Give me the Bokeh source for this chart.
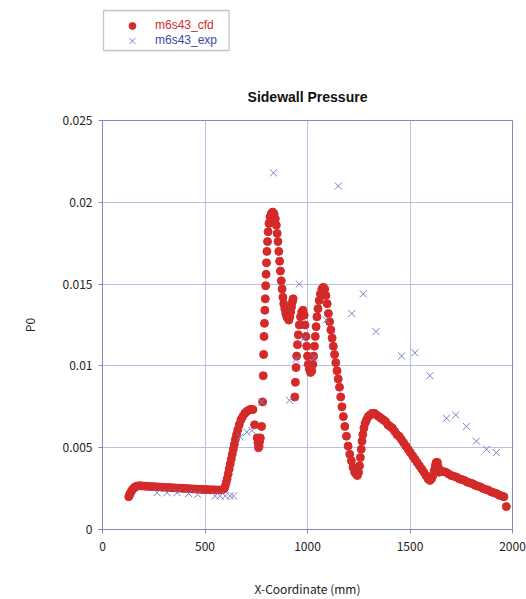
from bokeh.plotting import figure
from bokeh.layouts import column
from bokeh.models import (Range1d, Legend, LegendItem, BoxAnnotation, FixedTicker, Label,
                          CustomJSTickFormatter)
from bokeh.embed import file_html
from bokeh.resources import INLINE

# ---------------- data ----------------
title_text = "Sidewall Pressure"
x_label = "X-Coordinate (mm)"
y_label = "P0"
cfd_name = "m6s43_cfd"
exp_name = "m6s43_exp"

x_ticks = [0, 500, 1000, 1500, 2000]
y_ticks = [0, 0.005, 0.01, 0.015, 0.02, 0.025]

cfd_x = [128, 131, 135, 140, 146, 153, 160, 168, 176, 185, 195, 207, 220, 233, 246, 260, 274,
         288, 302, 316, 330, 344, 358, 372, 386, 400, 414, 428, 442, 456, 470, 484, 498, 512,
         526, 540, 554, 568, 582, 592,
         598, 603, 608, 613, 618, 623, 628, 633, 638, 643, 648, 654, 660, 667, 675, 684, 694,
         704, 714, 724, 734,
         742, 776, 755, 758, 761, 764, 767, 770,
         781, 784, 786, 788, 790, 792, 794, 796, 798, 800, 802, 805, 808, 812, 817, 823, 830,
         837, 843, 848, 852, 856, 860, 864, 868, 872, 876, 880, 884, 889, 894, 899, 904, 909,
         914, 918, 922, 926, 930,
         938, 941, 944, 947, 951, 955, 960, 966, 972, 978, 984, 988, 992, 996, 1000, 1004,
         1009, 1015, 1021, 1026, 1030, 1034, 1038, 1042, 1046, 1051, 1057, 1063, 1070, 1077,
         1084, 1090, 1096, 1102, 1108, 1114, 1120, 1126, 1132, 1138, 1144, 1150, 1156, 1162,
         1168, 1175, 1182, 1190, 1198, 1206, 1214, 1222, 1230, 1237, 1243,
         1249, 1254, 1258, 1262, 1266, 1270, 1275, 1281, 1288, 1296, 1305, 1315, 1326, 1337,
         1348, 1359, 1370, 1381, 1392, 1403, 1414, 1425, 1436, 1447, 1458, 1469, 1480, 1491,
         1502, 1513, 1524, 1535, 1546, 1557, 1568, 1578, 1588, 1597, 1605, 1612, 1618, 1623,
         1628, 1634, 1638, 1642, 1650, 1662, 1675, 1688, 1701, 1714, 1727, 1740, 1753, 1766,
         1779, 1792, 1805, 1818, 1831, 1844, 1857, 1870, 1883, 1896, 1909, 1922, 1935, 1948,
         1958, 1970]
cfd_y = [0.00200, 0.00210, 0.00220, 0.00232, 0.00244, 0.00254, 0.00261, 0.00265, 0.00267,
         0.00267, 0.00266, 0.00265, 0.00264, 0.00263, 0.00262, 0.00261, 0.00260, 0.00259,
         0.00258, 0.00257, 0.00256, 0.00255, 0.00254, 0.00253, 0.00252, 0.00251, 0.00250,
         0.00249, 0.00248, 0.00247, 0.00246, 0.00245, 0.00245, 0.00244, 0.00243, 0.00243,
         0.00242, 0.00242, 0.00242, 0.00248,
         0.00262, 0.00285, 0.0031, 0.0034, 0.0037, 0.0040, 0.0043, 0.0046, 0.0049, 0.0052,
         0.0055, 0.0058, 0.0061, 0.0064, 0.0067, 0.0069, 0.00710, 0.00722, 0.00730, 0.00735,
         0.00733,
         0.0064, 0.0063, 0.0056, 0.0053, 0.0050, 0.0051, 0.0054, 0.0056,
         0.0078, 0.0094, 0.0107, 0.0118, 0.0126, 0.0134, 0.0141, 0.0149, 0.0156, 0.0163,
         0.0170, 0.0176, 0.0182, 0.0187, 0.0191, 0.0193, 0.0194, 0.0193, 0.0190, 0.0186,
         0.0181, 0.0176, 0.0170, 0.0164, 0.0158, 0.0152, 0.0147, 0.0142, 0.0138, 0.0135,
         0.0132, 0.0130, 0.0129, 0.0128, 0.0130, 0.0133, 0.0136, 0.0139, 0.0141,
         0.0081, 0.0090, 0.0099, 0.0106, 0.0113, 0.0119, 0.0125, 0.0130, 0.0133, 0.0134,
         0.0131, 0.0125, 0.0118, 0.0112, 0.0106, 0.0101, 0.0098, 0.0096, 0.0097, 0.0101,
         0.0106, 0.0112, 0.0118, 0.0124, 0.0130, 0.0135, 0.0140, 0.0144, 0.0147, 0.0148,
         0.0147, 0.0143, 0.0138, 0.0132, 0.0127, 0.0122, 0.0117, 0.0112, 0.0107, 0.0102,
         0.0097, 0.0092, 0.0087, 0.0081, 0.0075, 0.0069, 0.0063, 0.0057, 0.0051, 0.0046,
         0.0042, 0.0038, 0.0035, 0.0034, 0.0033,
         0.0035, 0.0039, 0.0044, 0.0049, 0.0054, 0.0058, 0.0062, 0.0065, 0.0067, 0.0069,
         0.0070, 0.0071, 0.0071, 0.0070, 0.0069, 0.0068, 0.0067, 0.0066, 0.0064, 0.0063,
         0.0062, 0.0060, 0.0058, 0.0057, 0.0055, 0.0053, 0.0051, 0.0049, 0.0047, 0.0045,
         0.0043, 0.0041, 0.0039, 0.0037, 0.0035, 0.0033, 0.0031, 0.0030, 0.0031, 0.0033,
         0.0036, 0.0039, 0.0041, 0.0041, 0.0038, 0.0035, 0.0036, 0.00355, 0.0035, 0.0034,
         0.0033, 0.00325, 0.0032, 0.0031, 0.00305, 0.0030, 0.0029, 0.00285, 0.0028, 0.0027,
         0.00265, 0.0026, 0.0025, 0.00245, 0.0024, 0.0023, 0.00225, 0.0022, 0.0021, 0.00205,
         0.0020, 0.0014]

exp_x = [266, 315, 364, 420, 464, 550, 574, 599, 623, 639, 672, 704, 729, 777, 834, 912,
         944, 960, 980, 1033, 1091, 1150, 1216, 1272, 1334, 1459, 1524, 1597, 1678, 1723,
         1775, 1824, 1873, 1921]
exp_y = [0.00225, 0.00225, 0.00225, 0.0022, 0.00215, 0.00205, 0.00205, 0.00205, 0.00205,
         0.00205, 0.00565, 0.00595, 0.00605, 0.0078, 0.0218, 0.0079, 0.0104, 0.0150, 0.01165,
         0.0105, 0.0128, 0.0210, 0.0132, 0.0144, 0.0121, 0.0106, 0.0108, 0.0094, 0.0068,
         0.0070, 0.0063, 0.0054, 0.0049, 0.0047]

# ---------------- styles ----------------
RED = "#d42a2a"
BLUE_MK = "#7482c4"
BLUE_TXT = "#3a48a8"
GRID = "#b8bfe2"
FRAME = "#7f89c8"
FONT = "Noto Sans CJK JP"
W = 526
TOP_H = 110
MAIN_H = 489
BL, BR = 102, 14          # left / right borders shared by both figures

# ---------------- header strip: legend + title (frame aligned with the chart) ----------------
pl = figure(width=W, height=TOP_H, x_range=Range1d(BL, W - BR), y_range=Range1d(0, TOP_H),
            output_backend="svg", toolbar_location=None, x_axis_type=None, y_axis_type=None,
            min_border_left=BL, min_border_right=BR, min_border_top=0, min_border_bottom=0,
            title=None)
pl.outline_line_color = None
pl.grid.visible = False
nan = float("nan")
lr_cfd = pl.scatter([nan], [nan], marker="circle", size=7, fill_color=RED, line_color=RED)
lr_exp = pl.scatter([nan], [nan], marker="x", size=9, line_color=BLUE_MK, line_width=1)


def make_legend(label, rend, color, loc, gw, gh, standoff):
    lg = Legend(items=[LegendItem(label=label, renderers=[rend])], location=loc,
                orientation="vertical", margin=0, padding=0, spacing=0,
                glyph_width=gw, glyph_height=gh, label_height=15, label_standoff=standoff,
                label_text_font="Liberation Sans", label_text_font_size="12px",
                label_text_color=color, border_line_color=None, background_fill_alpha=0)
    pl.add_layout(lg, "center")
    return lg


make_legend(cfd_name, lr_cfd, RED, (21, 76.5), 18, 17, 14)
make_legend(exp_name, lr_exp, BLUE_TXT, (20, 59.5), 20, 21, 13)
pl.add_layout(BoxAnnotation(left=103, right=228.5, top=100, bottom=60,
                            fill_alpha=0, line_color="#3c3c3c", line_width=1.3))
pl.add_layout(Label(x=(BL + W - BR) / 2, y=14, text=title_text, text_align="center",
                    text_baseline="middle", text_font="Liberation Sans",
                    text_font_size="14px", text_font_style="bold", text_color="#111111"))

# ---------------- main chart ----------------
p = figure(width=W, height=MAIN_H, x_range=Range1d(0, 2000), y_range=Range1d(0, 0.025),
           output_backend="svg", toolbar_location=None, title=None,
           min_border_left=BL, min_border_right=BR, min_border_top=10, min_border_bottom=70)

p.outline_line_color = FRAME
p.outline_line_width = 1
p.xgrid.grid_line_color = GRID
p.ygrid.grid_line_color = GRID
p.xgrid.ticker = FixedTicker(ticks=x_ticks)
p.ygrid.ticker = FixedTicker(ticks=y_ticks)

p.xaxis.ticker = FixedTicker(ticks=x_ticks)
p.yaxis.ticker = FixedTicker(ticks=y_ticks)
p.yaxis.formatter = CustomJSTickFormatter(code="return String(parseFloat(tick.toFixed(4)));")
for ax in (p.xaxis[0], p.yaxis[0]):
    ax.axis_line_color = FRAME
    ax.major_tick_line_color = FRAME
    ax.major_tick_in = 0
    ax.major_tick_out = 4
    ax.minor_tick_line_color = None
    ax.major_label_text_font = FONT
    ax.major_label_text_font_size = "12px"
    ax.major_label_text_color = "#222222"
    ax.axis_label_text_font = FONT
    ax.axis_label_text_font_size = "12px"
    ax.axis_label_text_font_style = "normal"
    ax.axis_label_text_color = "#222222"
p.xaxis.axis_label = x_label
p.yaxis.axis_label = y_label
p.xaxis.major_label_standoff = 8
p.yaxis.major_label_standoff = 6
p.xaxis.axis_label_standoff = 26
p.yaxis.axis_label_standoff = 22

p.scatter(cfd_x, cfd_y, marker="circle", size=8, fill_color=RED, line_color=RED)
p.scatter(exp_x, exp_y, marker="x", size=10, line_color=BLUE_MK, line_width=1)

layout = column(pl, p, spacing=0)
open("out.html", "w").write(file_html(layout, INLINE))
